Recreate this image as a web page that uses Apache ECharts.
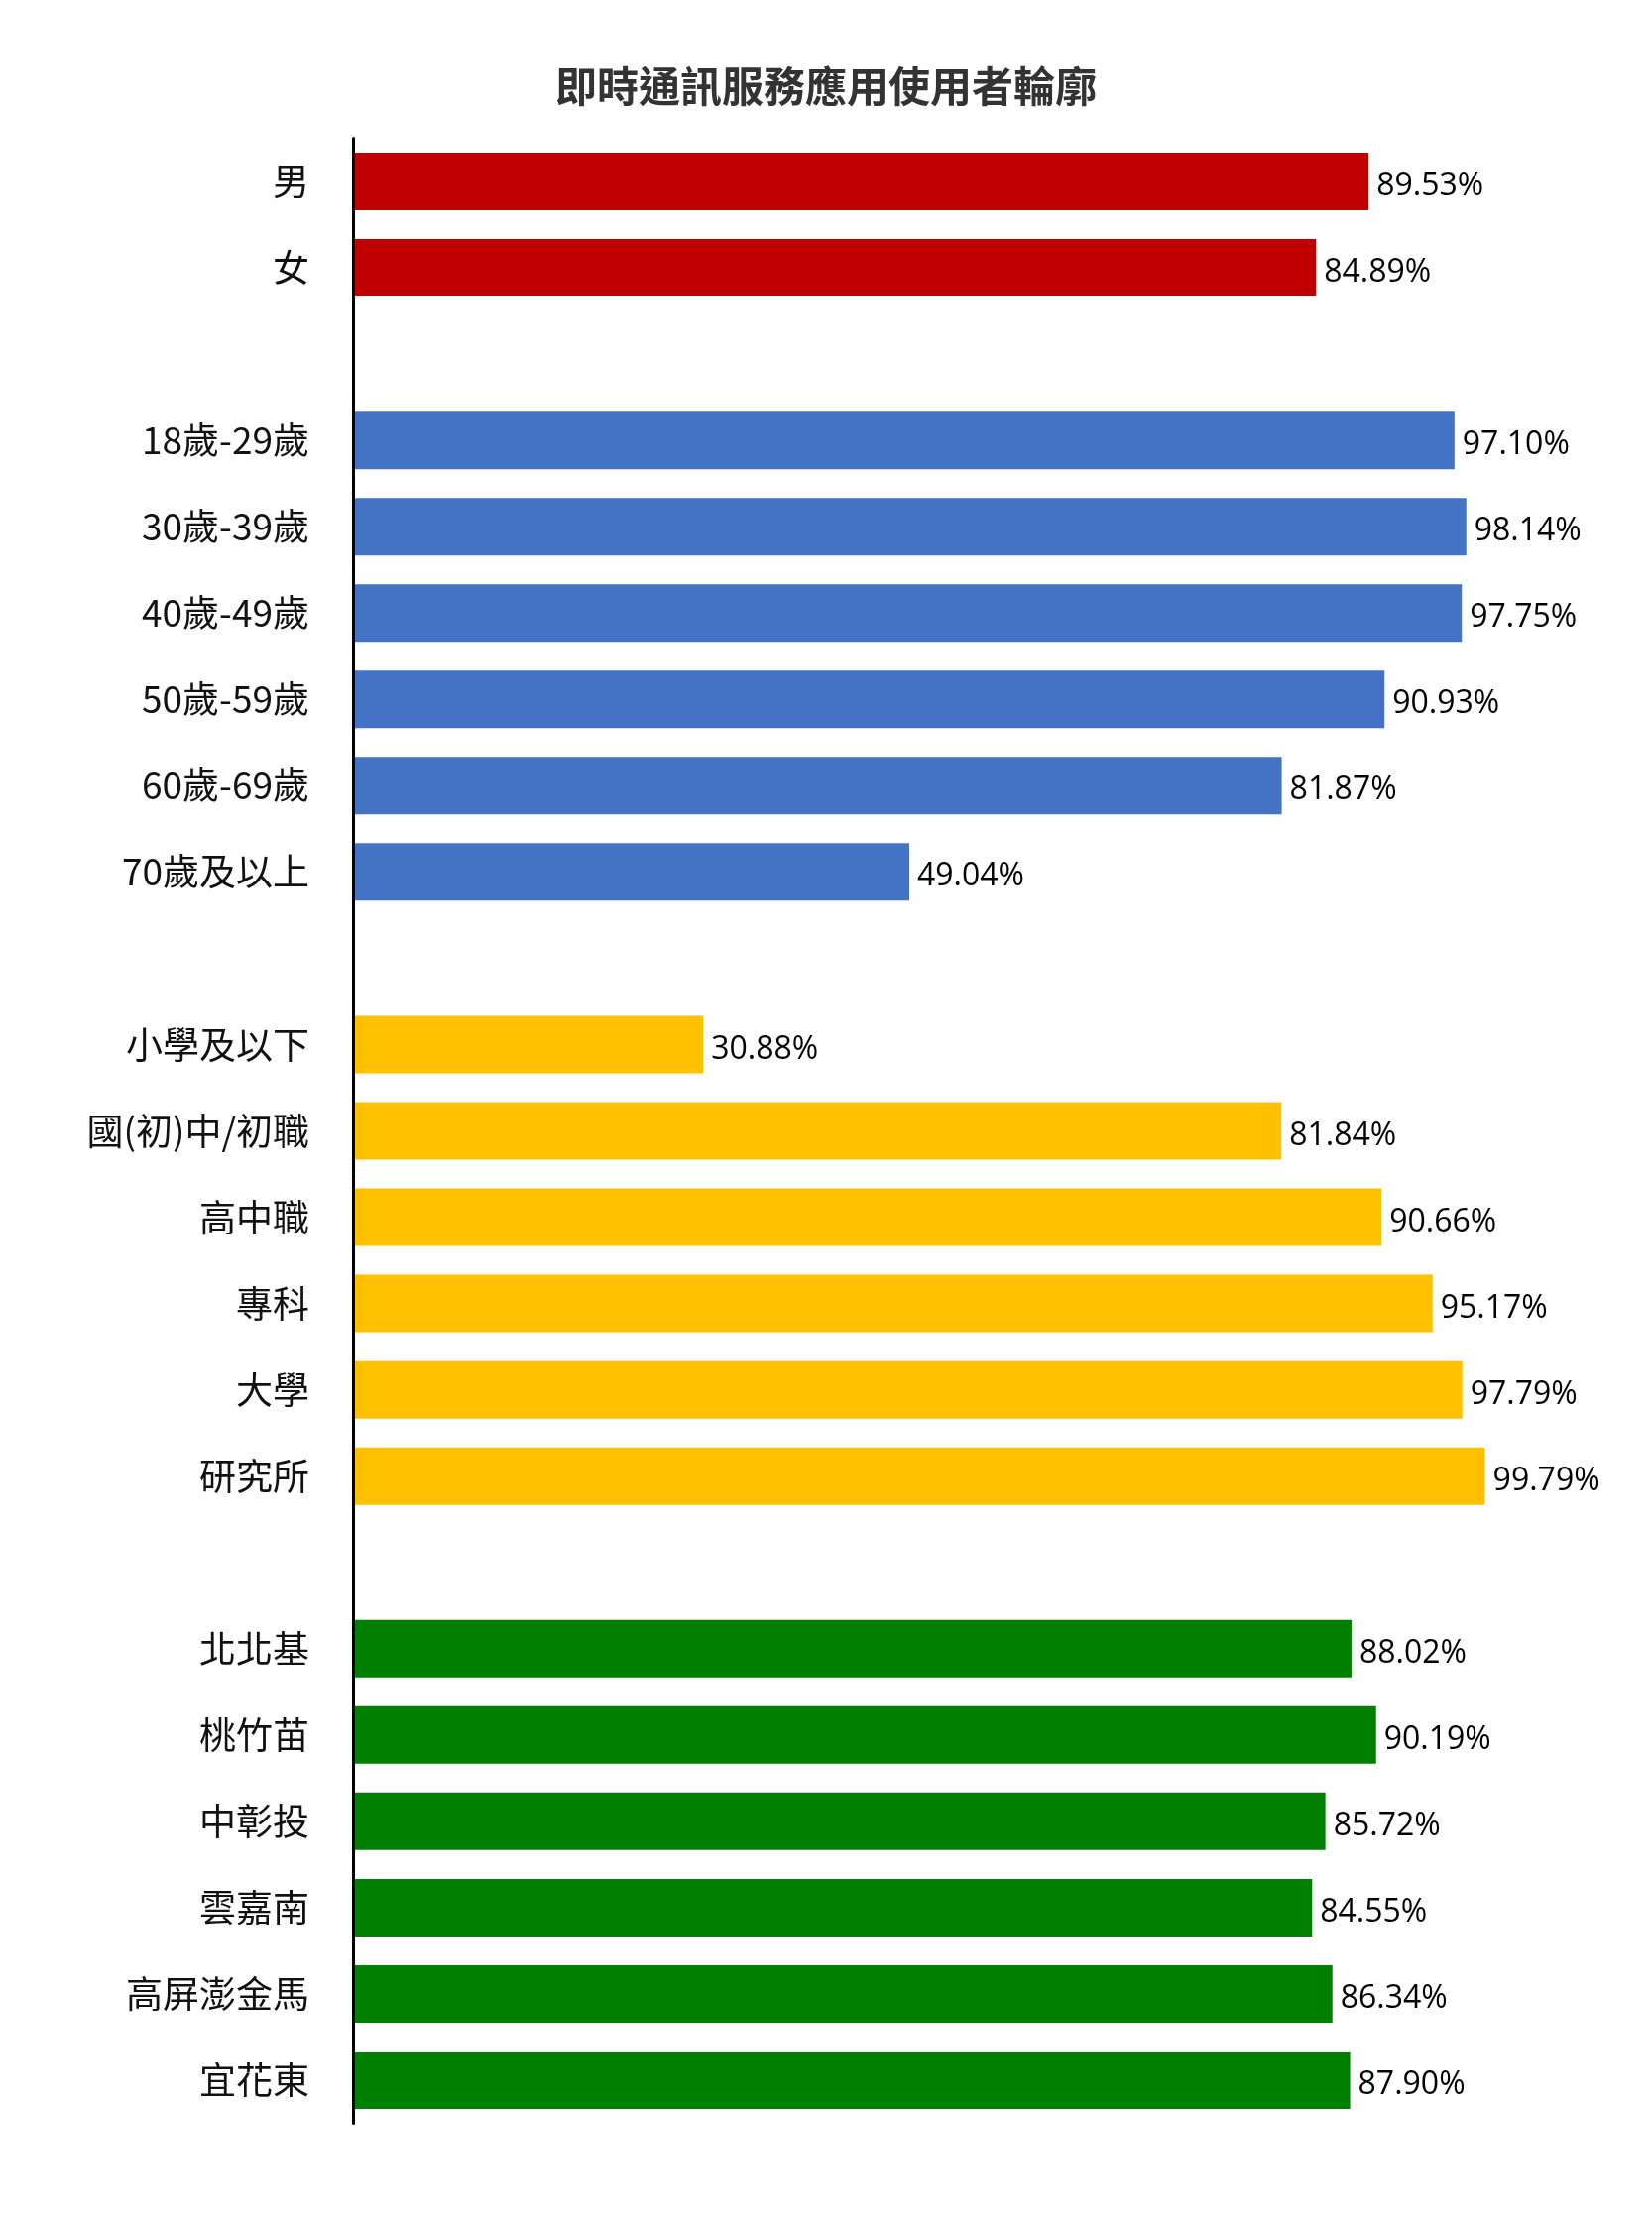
<!DOCTYPE html>
<html>
<head>
<meta charset="utf-8">
<style>html,body{margin:0;padding:0;background:#fff;}#chart{width:1666px;height:2250px;}</style>
<script src="https://cdn.jsdelivr.net/npm/echarts@6/dist/echarts.min.js"></script>
</head>
<body>
<div id="chart"></div>
<script>
const titleText = '即時通訊服務應用使用者輪廓';
const genderCats = ['男', '女'];
const genderVals = [89.53, 84.89];
const ageCats = ['18歲-29歲', '30歲-39歲', '40歲-49歲', '50歲-59歲', '60歲-69歲', '70歲及以上'];
const ageVals = [97.10, 98.14, 97.75, 90.93, 81.87, 49.04];
const eduCats = ['小學及以下', '國(初)中/初職', '高中職', '專科', '大學', '研究所'];
const eduVals = [30.88, 81.84, 90.66, 95.17, 97.79, 99.79];
const regionCats = ['北北基', '桃竹苗', '中彰投', '雲嘉南', '高屏澎金馬', '宜花東'];
const regionVals = [88.02, 90.19, 85.72, 84.55, 86.34, 87.90];
const groupColors = ['#C00000', '#4472C4', '#FFC000', '#008000'];

const groups = [[genderCats, genderVals], [ageCats, ageVals], [eduCats, eduVals], [regionCats, regionVals]];
const categories = [];
const data = [];
groups.forEach((g, gi) => {
  if (gi > 0) { categories.push(' '.repeat(gi)); data.push({ value: null }); }
  g[0].forEach((c, i) => {
    categories.push(c);
    data.push({ value: g[1][i], itemStyle: { color: groupColors[gi] } });
  });
});

const chart = echarts.init(document.getElementById('chart'));
chart.setOption({
  backgroundColor: '#ffffff',
  animation: false,
  title: {
    text: titleText,
    left: 'center',
    top: 61,
    textStyle: { fontFamily: 'Noto Sans CJK TC', fontWeight: 'bold', fontSize: 42, color: '#333333' }
  },
  grid: { left: 356, right: 166, top: 139.5, bottom: 108.5, containLabel: false },
  xAxis: { type: 'value', min: 0, max: 100, show: false, splitLine: { show: false } },
  yAxis: {
    type: 'category',
    data: categories,
    inverse: true,
    z: 10,
    axisLine: { show: true, lineStyle: { color: '#000000', width: 3 } },
    axisTick: { show: false },
    axisLabel: { margin: 44, fontFamily: 'Noto Sans CJK TC', fontSize: 37, color: '#111111' }
  },
  series: [{
    type: 'bar',
    data: data,
    barWidth: 58,
    label: {
      show: true,
      position: 'right',
      distance: 8,
      offset: [0, 5],
      fontFamily: 'Open Sans',
      fontSize: 32,
      color: '#000000',
      formatter: p => p.value == null ? '' : p.value.toFixed(2) + '%'
    }
  }]
});
</script>
</body>
</html>
